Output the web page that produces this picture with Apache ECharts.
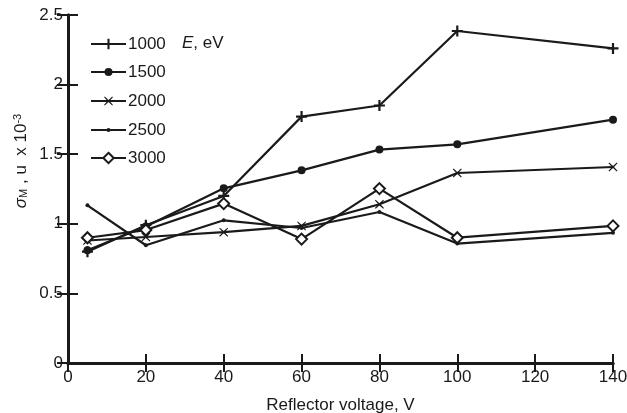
<!DOCTYPE html>
<html>
<head>
<meta charset="utf-8">
<script src="https://cdn.jsdelivr.net/npm/echarts@6/dist/echarts.min.js"></script>
<style>
html,body{margin:0;padding:0;background:#fff;}
#c{width:627px;height:413px;}
</style>
</head>
<body>
<div id="c"></div>
<script>
const voltages = [5, 20, 40, 60, 80, 100, 140];
const s1000 = [0.80, 0.99, 1.20, 1.77, 1.85, 2.385, 2.26];
const s1500 = [0.81, 0.98, 1.255, 1.384, 1.533, 1.571, 1.748];
const s2000 = [0.88, 0.905, 0.94, 0.985, 1.14, 1.365, 1.408];
const s2500 = [1.133, 0.846, 1.025, 0.97, 1.085, 0.858, 0.935];
const s3000 = [0.90, 0.955, 1.145, 0.89, 1.253, 0.90, 0.985];
const seriesNames = ['1000', '1500', '2000', '2500', '3000'];
const xTicks = [0, 20, 40, 60, 80, 100, 120, 140];
const yTicks = [0, 0.5, 1, 1.5, 2, 2.5];

const FONT = 'Liberation Sans';
const BLACK = '#1a1a1a';

function pairs(vals) { return voltages.map((v, i) => [v, vals[i]]); }

const plusPath = 'path://M-1,-5H1V-1H5V1H1V5H-1V1H-5V-1H-1Z';
const xPath = 'path://M-4.2,-5L0,-1.2L4.2,-5L5,-4.2L1.2,0L5,4.2L4.2,5L0,1.2L-4.2,5L-5,4.2L-1.2,0L-5,-4.2Z';

const styles = [
  { symbol: plusPath, size: 11, color: BLACK, legendH: 13 },
  { symbol: 'circle', size: 8, color: BLACK, legendH: 10 },
  { symbol: xPath, size: 9, color: BLACK, legendH: 11 },
  { symbol: 'circle', size: 4, color: BLACK, legendH: 5 },
  { symbol: 'diamond', size: 11, color: '#fff', border: BLACK, legendH: 13 }
];
const data = [s1000, s1500, s2000, s2500, s3000];
const legendCenters = [44, 72, 101, 130, 158];

const series = seriesNames.map((n, i) => ({
  name: n,
  type: 'line',
  data: pairs(data[i]),
  symbol: styles[i].symbol,
  symbolSize: styles[i].size,
  showAllSymbol: true,
  lineStyle: { color: BLACK, width: 2.2 },
  itemStyle: {
    color: styles[i].color,
    borderColor: styles[i].border || BLACK,
    borderWidth: styles[i].border ? 2 : 0
  },
  emphasis: { disabled: true },
  z: 2 + i,
  animation: false
}));

const legends = seriesNames.map((n, i) => ({
  orient: 'vertical',
  left: 90,
  top: legendCenters[i] - 9,
  padding: 0,
  itemWidth: 35,
  itemHeight: styles[i].legendH,
  data: [n],
  textStyle: { fontFamily: FONT, fontSize: 17, lineHeight: 18, color: BLACK, padding: [0, 0, 0, -3] },
  selectedMode: false
}));

const axisLineStyle = { color: BLACK, width: 3 };

const option = {
  backgroundColor: '#fff',
  animation: false,
  textStyle: { fontFamily: FONT },
  grid: { left: 68, right: 14, top: 15, bottom: 50, outerBoundsMode: 'none', containLabel: false },
  legend: legends,
  xAxis: [{
    type: 'value', min: 0, max: 140, interval: 20, position: 'bottom',
    axisLine: { show: true, lineStyle: axisLineStyle },
    axisTick: { show: true, inside: true, length: 9, lineStyle: { color: BLACK, width: 2 } },
    axisLabel: { fontFamily: FONT, fontSize: 17, color: BLACK, margin: 6,
      customValues: xTicks },
    splitLine: { show: false },
    name: 'Reflector voltage, V', nameLocation: 'middle', nameGap: 34,
    nameTextStyle: { fontFamily: FONT, fontSize: 17, color: BLACK }
  }, {
    type: 'value', min: 0, max: 140, interval: 20, position: 'top',
    axisLine: { show: true, lineStyle: axisLineStyle },
    axisTick: { show: true, inside: true, length: 9, lineStyle: { color: BLACK, width: 2 } },
    axisLabel: { show: false },
    splitLine: { show: false }
  }],
  yAxis: [{
    type: 'value', min: 0, max: 2.5, interval: 0.5, position: 'left',
    axisLine: { show: true, lineStyle: axisLineStyle },
    axisTick: { show: true, inside: true, length: 10, lineStyle: { color: BLACK, width: 2 } },
    axisLabel: { fontFamily: FONT, fontSize: 17, color: BLACK, margin: 5,
      customValues: yTicks },
    splitLine: { show: false }
  }, {
    type: 'value', min: 0, max: 2.5, interval: 0.5, position: 'right',
    axisLine: { show: true, lineStyle: axisLineStyle },
    axisTick: { show: true, inside: true, length: 11, lineStyle: { color: BLACK, width: 2 } },
    axisLabel: { show: false },
    splitLine: { show: false }
  }],
  graphic: [{
    type: 'text',
    left: 182, top: 35,
    style: {
      text: '{i|E}, eV',
      rich: {
        i: { fontFamily: FONT, fontSize: 17, fontStyle: 'italic', fill: BLACK }
      },
      font: '17px ' + FONT,
      fill: BLACK
    }
  }, {
    type: 'text',
    x: 21, y: 161,
    rotation: Math.PI / 2,
    style: {
      text: '{s|σ}{sub|M}{n| , u  x 10}{sup|-3}',
      rich: {
        s: { fontFamily: FONT, fontSize: 17, fontStyle: 'italic', fill: BLACK, verticalAlign: 'middle' },
        sub: { fontFamily: FONT, fontSize: 11, fill: BLACK, verticalAlign: 'bottom' },
        n: { fontFamily: FONT, fontSize: 17, fill: BLACK },
        sup: { fontFamily: FONT, fontSize: 11, fill: BLACK, verticalAlign: 'top' }
      },
      align: 'center',
      verticalAlign: 'middle'
    }
  }],
  series: series
};

const chart = echarts.init(document.getElementById('c'), null, { renderer: 'canvas' });
chart.setOption(option);
</script>
</body>
</html>
